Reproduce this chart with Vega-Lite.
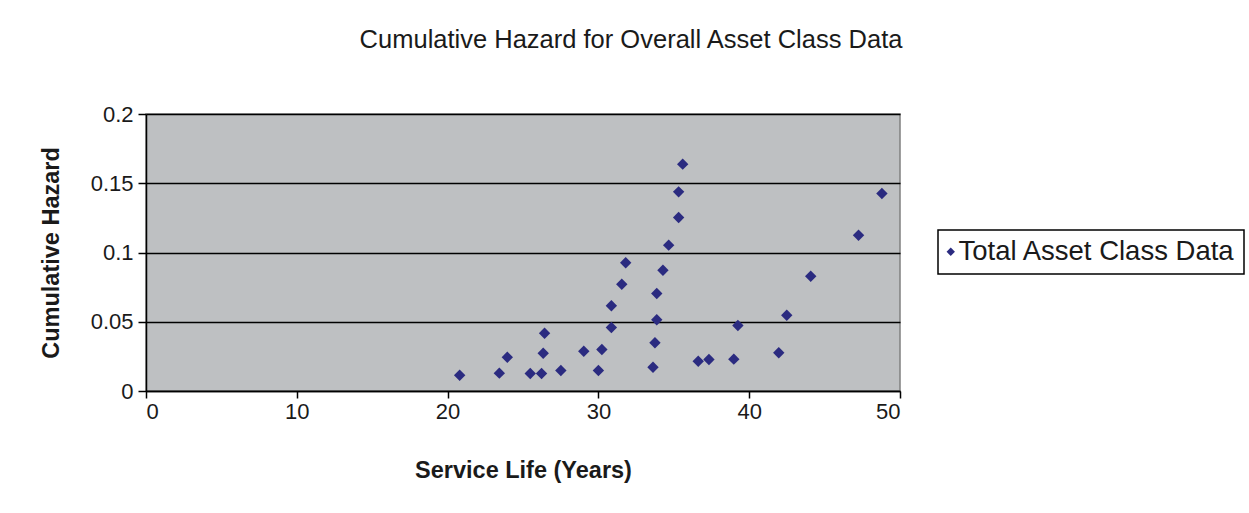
{
  "$schema": "https://vega.github.io/schema/vega-lite/v6.json",
  "width": 754,
  "height": 277,
  "autosize": {"type": "none"},
  "padding": {"left": 146, "top": 114, "right": 349, "bottom": 122},
  "background": "white",
  "title": {
    "text": "Cumulative Hazard for Overall Asset Class Data",
    "font": "Liberation Sans",
    "fontSize": 25.5,
    "fontWeight": "normal",
    "color": "#1a1a1a",
    "anchor": "middle",
    "frame": "group",
    "dx": 108,
    "offset": 50
  },
  "data": {
    "values": [
      {"life": 20.8, "hazard": 0.0114, "series": "Total Asset Class Data"},
      {"life": 23.43, "hazard": 0.0129, "series": "Total Asset Class Data"},
      {"life": 23.96, "hazard": 0.0244, "series": "Total Asset Class Data"},
      {"life": 25.48, "hazard": 0.0126, "series": "Total Asset Class Data"},
      {"life": 26.23, "hazard": 0.0126, "series": "Total Asset Class Data"},
      {"life": 26.34, "hazard": 0.0273, "series": "Total Asset Class Data"},
      {"life": 26.43, "hazard": 0.0417, "series": "Total Asset Class Data"},
      {"life": 27.51, "hazard": 0.0148, "series": "Total Asset Class Data"},
      {"life": 29.03, "hazard": 0.0287, "series": "Total Asset Class Data"},
      {"life": 30.0, "hazard": 0.0148, "series": "Total Asset Class Data"},
      {"life": 30.23, "hazard": 0.03, "series": "Total Asset Class Data"},
      {"life": 30.86, "hazard": 0.0458, "series": "Total Asset Class Data"},
      {"life": 30.86, "hazard": 0.0615, "series": "Total Asset Class Data"},
      {"life": 31.55, "hazard": 0.0771, "series": "Total Asset Class Data"},
      {"life": 31.81, "hazard": 0.0926, "series": "Total Asset Class Data"},
      {"life": 33.62, "hazard": 0.0172, "series": "Total Asset Class Data"},
      {"life": 33.75, "hazard": 0.0348, "series": "Total Asset Class Data"},
      {"life": 33.87, "hazard": 0.0514, "series": "Total Asset Class Data"},
      {"life": 33.87, "hazard": 0.0704, "series": "Total Asset Class Data"},
      {"life": 34.28, "hazard": 0.0872, "series": "Total Asset Class Data"},
      {"life": 34.66, "hazard": 0.1053, "series": "Total Asset Class Data"},
      {"life": 35.32, "hazard": 0.1253, "series": "Total Asset Class Data"},
      {"life": 35.32, "hazard": 0.1438, "series": "Total Asset Class Data"},
      {"life": 35.59, "hazard": 0.1638, "series": "Total Asset Class Data"},
      {"life": 36.62, "hazard": 0.0215, "series": "Total Asset Class Data"},
      {"life": 37.33, "hazard": 0.0227, "series": "Total Asset Class Data"},
      {"life": 38.98, "hazard": 0.023, "series": "Total Asset Class Data"},
      {"life": 39.25, "hazard": 0.0473, "series": "Total Asset Class Data"},
      {"life": 41.96, "hazard": 0.0276, "series": "Total Asset Class Data"},
      {"life": 42.49, "hazard": 0.0547, "series": "Total Asset Class Data"},
      {"life": 44.08, "hazard": 0.0829, "series": "Total Asset Class Data"},
      {"life": 47.25, "hazard": 0.1125, "series": "Total Asset Class Data"},
      {"life": 48.8, "hazard": 0.1426, "series": "Total Asset Class Data"}
    ]
  },
  "mark": {"type": "point", "shape": "diamond", "filled": true, "size": 130, "opacity": 1},
  "encoding": {
    "x": {
      "field": "life",
      "type": "quantitative",
      "scale": {"domain": [0, 50], "nice": false},
      "axis": {
        "title": "Service Life (Years)",
        "values": [0, 10, 20, 30, 40, 50],
        "grid": false,
        "domainColor": "black",
        "domainWidth": 1.5,
        "tickColor": "black",
        "tickWidth": 1.5,
        "tickSize": 7,
        "labelFont": "Liberation Sans",
        "labelFontSize": 22,
        "labelColor": "#1a1a1a",
        "labelPadding": 3,
        "titleFont": "Liberation Sans",
        "titleFontSize": 23.5,
        "titleFontWeight": "bold",
        "titleColor": "#1a1a1a",
        "titlePadding": 36
      }
    },
    "y": {
      "field": "hazard",
      "type": "quantitative",
      "scale": {"domain": [0, 0.2], "nice": false},
      "axis": {
        "title": "Cumulative Hazard",
        "values": [0, 0.05, 0.1, 0.15, 0.2],
        "format": "~g",
        "grid": true,
        "gridColor": "black",
        "gridWidth": 1.5,
        "gridOpacity": 1,
        "domainColor": "black",
        "domainWidth": 1.5,
        "tickColor": "black",
        "tickWidth": 1.5,
        "tickSize": 8,
        "labelFont": "Liberation Sans",
        "labelFontSize": 22,
        "labelColor": "#1a1a1a",
        "labelPadding": 5,
        "titleFont": "Liberation Sans",
        "titleFontSize": 23.5,
        "titleFontWeight": "bold",
        "titleColor": "#1a1a1a",
        "titlePadding": 27
      }
    },
    "color": {
      "field": "series",
      "type": "nominal",
      "scale": {"range": ["#2B2B80"]},
      "legend": {
        "title": null,
        "orient": "none",
        "legendX": 792,
        "legendY": 116,
        "symbolType": "diamond",
        "symbolSize": 70,
        "symbolStrokeWidth": 0,
        "symbolOffset": -9,
        "labelFont": "Liberation Sans",
        "labelFontSize": 27.5,
        "labelColor": "#1a1a1a",
        "labelLimit": 400,
        "labelOffset": -6,
        "padding": 8,
        "strokeColor": "black",
        "fillColor": "white",
        "cornerRadius": 0
      }
    }
  },
  "config": {
    "view": {"fill": "#BEC0C2", "stroke": "#808080", "strokeWidth": 1.5},
    "legend": {"strokeWidth": 1.5}
  }
}
